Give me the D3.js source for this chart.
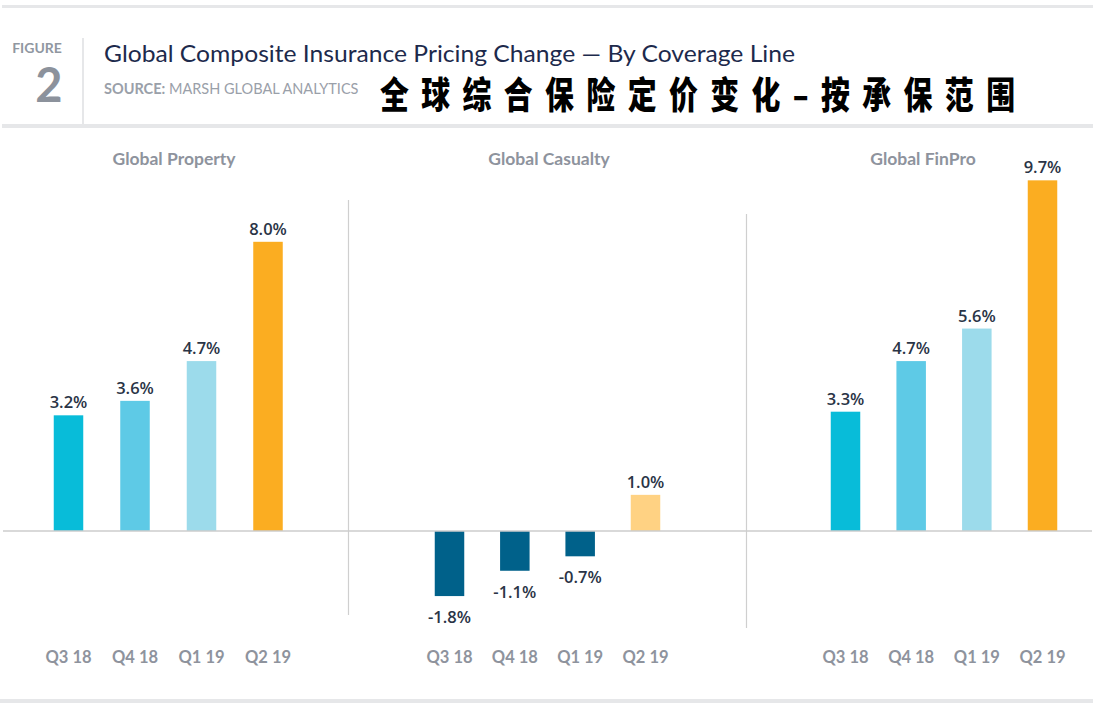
<!DOCTYPE html>
<html><head><meta charset="utf-8">
<script src="https://cdn.jsdelivr.net/npm/d3@7"></script>
<style>
html,body{margin:0;padding:0;background:#fff;}
svg{display:block;}
</style></head>
<body>
<svg id="chart" width="1093" height="707"></svg>
<script>
const quarters = ["Q3 18", "Q4 18", "Q1 19", "Q2 19"];
const panels = ["Global Property", "Global Casualty", "Global FinPro"];
const propertyValues = [3.2, 3.6, 4.7, 8.0];
const casualtyValues = [-1.8, -1.1, -0.7, 1.0];
const finproValues = [3.3, 4.7, 5.6, 9.7];
const seriesValues = [propertyValues, casualtyValues, finproValues];
const titleText = "Global Composite Insurance Pricing Change — By Coverage Line";
const sourceLabel = "SOURCE:";
const sourceText = " MARSH GLOBAL ANALYTICS";
const chineseTitle = "全球综合保险定价变化–按承保范围";

const positiveColors = ["#08bcd9", "#5ecae6", "#9cdbeb", "#fbad21"];
const casualtyColors = ["#00618a", "#00618a", "#00618a", "#ffd283"];

const svg = d3.select("#chart");
const W = 1093;

// header rules
svg.append("rect").attr("x", 2).attr("y", 5).attr("width", W).attr("height", 3).attr("fill", "#e6e7e9");
svg.append("rect").attr("x", 2).attr("y", 124).attr("width", W).attr("height", 4).attr("fill", "#e6e7e9");
svg.append("rect").attr("x", 0).attr("y", 699).attr("width", W).attr("height", 4).attr("fill", "#e6e7e9");
svg.append("rect").attr("x", 82).attr("y", 38).attr("width", 2).attr("height", 86).attr("fill", "#e6e7e9");

svg.append("text").attr("x", 37).attr("y", 53).attr("text-anchor", "middle")
  .attr("font-family", "Lato").attr("font-weight", 700).attr("font-size", 14)
  .attr("fill", "#9097a1").text("FIGURE");
svg.append("text").attr("x", 49).attr("y", 102).attr("text-anchor", "middle")
  .attr("font-family", "Lato").attr("font-weight", 700).attr("font-size", 47)
  .attr("fill", "#8c929c").text("2");

svg.append("text").attr("x", 104).attr("y", 61.5)
  .attr("font-family", "Lato").attr("font-size", 23)
  .attr("fill", "#1d2a4c")
  .attr("textLength", 691).attr("lengthAdjust", "spacingAndGlyphs")
  .text(titleText);
const src = svg.append("text").attr("x", 104).attr("y", 94)
  .attr("font-family", "Lato").attr("font-size", 14.5).attr("fill", "#9aa0a9");
src.append("tspan").attr("font-weight", 700).text(sourceLabel);
src.append("tspan").text(sourceText);

svg.append("g").attr("transform", "translate(380,0) scale(0.78,1)")
  .append("text").attr("x", 0).attr("y", 109)
  .attr("font-family", "Noto Sans CJK SC").attr("font-weight", 900).attr("font-size", 37)
  .attr("fill", "#000")
  .attr("textLength", 635 / 0.78).attr("lengthAdjust", "spacing")
  .text(chineseTitle);

// chart scales
const y = d3.scaleLinear().domain([0, 10]).range([531, 169.5]);
const panelRanges = [[68.5, 268], [449.5, 645.5], [845.5, 1042.5]];
const titleCenters = [174, 549, 923];
const barW = 29.5;
const fmt = v => (v < 0 ? "-" : "") + d3.format(".1f")(Math.abs(v)) + "%";

// dividers
svg.append("line").attr("x1", 348.5).attr("x2", 348.5).attr("y1", 200).attr("y2", 615)
  .attr("stroke", "#cfcfcf").attr("stroke-width", 1.2);
svg.append("line").attr("x1", 746.5).attr("x2", 746.5).attr("y1", 214).attr("y2", 628)
  .attr("stroke", "#cfcfcf").attr("stroke-width", 1.2);

panels.forEach((name, pi) => {
  const x = d3.scalePoint().domain(quarters).range(panelRanges[pi]);
  const vals = seriesValues[pi];
  const colors = pi === 1 ? casualtyColors : positiveColors;
  const g = svg.append("g");
  g.append("text").attr("x", titleCenters[pi]).attr("y", 165).attr("text-anchor", "middle")
    .attr("font-family", "Lato").attr("font-weight", 700).attr("font-size", 17.5)
    .attr("fill", "#8e939d").text(name);

  const data = quarters.map((q, i) => ({ q, v: vals[i], c: colors[i] }));
  g.selectAll("rect.bar").data(data).enter().append("rect")
    .attr("class", "bar")
    .attr("x", d => x(d.q) - barW / 2)
    .attr("width", barW)
    .attr("y", d => y(Math.max(0, d.v)))
    .attr("height", d => Math.abs(y(d.v) - y(0)))
    .attr("fill", d => d.c);

  g.selectAll("text.val").data(data).enter().append("text")
    .attr("class", "val")
    .attr("x", d => x(d.q))
    .attr("y", d => d.v >= 0 ? y(d.v) - 7 : y(d.v) + 27)
    .attr("text-anchor", "middle")
    .attr("font-family", "Open Sans").attr("font-weight", 600).attr("font-size", 16.5)
    .attr("fill", "#2a3446")
    .text(d => fmt(d.v));

  g.selectAll("text.cat").data(quarters).enter().append("text")
    .attr("class", "cat")
    .attr("x", d => x(d)).attr("y", 663).attr("text-anchor", "middle")
    .attr("font-family", "Lato").attr("font-weight", 700).attr("font-size", 16.5)
    .attr("fill", "#8e939d").text(d => d);
});

// zero line
svg.append("line").attr("x1", 3).attr("x2", 1092).attr("y1", y(0)).attr("y2", y(0))
  .attr("stroke", "#cccccc").attr("stroke-width", 1.5);
</script>
</body></html>
